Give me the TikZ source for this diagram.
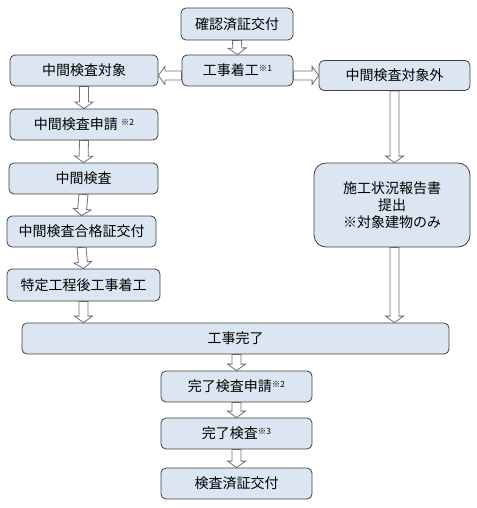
\documentclass[tikz,border=0pt]{standalone}
\usepackage{fontspec}
\newfontfamily\jpfont{Noto Sans CJK JP}
\usepackage{tikz}
\usetikzlibrary{calc, backgrounds}
\definecolor{boxfill}{HTML}{DCE6F2}
\definecolor{boxline}{HTML}{404040}
\definecolor{arrline}{HTML}{707070}
\newcommand{\kome}[1]{\raisebox{0.6ex}{\fontsize{8.5}{9}\selectfont ※#1}}

\tikzset{
  flowbox/.style={draw=boxline, fill=boxfill, line width=0.8pt, rounded corners=5pt,
    inner sep=0pt, align=center, font=\jpfont\fontsize{14}{17}\selectfont},
  blockarr/.style={draw=arrline, fill=white, line width=0.8pt,
    to path={coordinate (arS) (\tikztotarget) coordinate (arT)
      ($(arT)!6.5pt!(arS)$) coordinate (arN)
      (arS) -- ($(arS)!4.5pt!90:(arT)$) -- ($(arN)!4.5pt!90:(arT)$)
      -- ($(arN)!9pt!90:(arT)$) -- (arT) -- ($(arN)!9pt!-90:(arT)$)
      -- ($(arN)!4.5pt!-90:(arT)$) -- ($(arS)!4.5pt!-90:(arT)$) -- cycle}}
}

\begin{document}
\begin{tikzpicture}[x=1pt, y=-1pt]
  \useasboundingbox (0,0) rectangle (476,508);
  \foreach \name/\px/\py/\w/\h/\text in {
    kakunin/237/24/112/32/確認済証交付,
    chakko/237.5/70.5/111/31/{工事着工\kome{1}},
    taisho/84/70.5/148/31/中間検査対象,
    taishogai/394.5/75.5/151/30/中間検査対象外,
    shinsei/84/124.5/148/31/{中間検査申請 \kome{2}},
    kensa/83.5/178.5/149/31/中間検査,
    gokaku/81.5/231.5/149/31/中間検査合格証交付,
    tokutei/83.5/285/153/32/特定工程後工事着工,
    kanryo/235.5/338.5/427/31/工事完了,
    kshinsei/236.5/386.5/151/31/{完了検査申請\kome{2}},
    kkensa/236.5/433.5/151/31/{完了検査\kome{3}},
    kenzumi/236.5/483.5/151/31/検査済証交付}
  \node[flowbox, minimum width=\w pt, minimum height=\h pt] (\name) at (\px,\py) {\text};
  \node[flowbox, rounded corners=12pt, minimum width=156pt, minimum height=84pt]
    (hokoku) at (392,205) {施工状況報告書\\提出\\※対象建物のみ};

  \begin{scope}[on background layer]
    \foreach \src/\dst in {
      kakunin.south/chakko.north,
      taisho.south/shinsei.north,
      shinsei.south/kensa.north,
      kensa.south/gokaku.north,
      gokaku.south/tokutei.north,
      kshinsei.south/kkensa.north,
      kkensa.south/kenzumi.north}
    \draw[blockarr] (\src) to (\dst);
    \draw[blockarr] ([yshift=-5pt]chakko.west) to ([yshift=-5pt]chakko.west -| taisho.east);
    \draw[blockarr] ([yshift=-5pt]chakko.east) to (taishogai.west);
    \draw[blockarr] (tokutei.south) to (tokutei.south |- kanryo.north);
    \draw[blockarr] (taishogai.south) to (taishogai.south |- hokoku.north);
    \draw[blockarr] (taishogai.south |- hokoku.south) to (taishogai.south |- kanryo.north);
    \draw[blockarr] (kshinsei.north |- kanryo.south) to (kshinsei.north);
  \end{scope}
\end{tikzpicture}
\end{document}
